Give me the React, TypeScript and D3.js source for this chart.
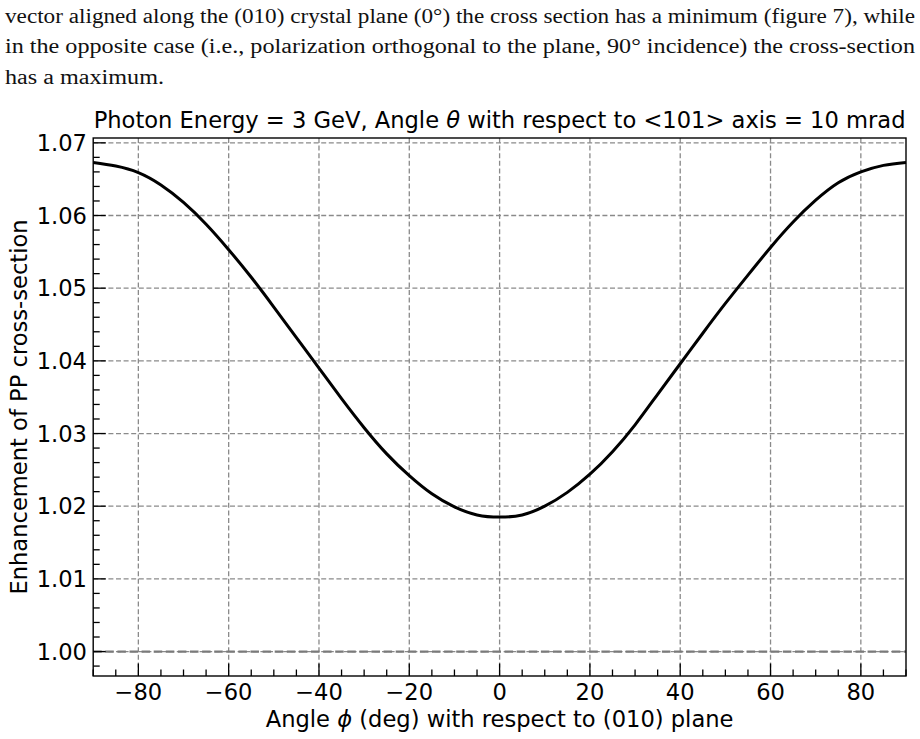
import React, { useEffect, useRef } from 'react';
import * as d3 from 'd3';

// Polarization angle phi (deg) and enhancement of the pair-production cross-section
const angles = [
  -90, -85, -80, -75, -70, -65, -60, -55, -50, -45, -40, -35, -30, -25, -20, -15, -10, -5, 0,
  5, 10, 15, 20, 25, 30, 35, 40, 45, 50, 55, 60, 65, 70, 75, 80, 85, 90,
];
const enhancement = [
  1.0673, 1.0668, 1.0659, 1.0642, 1.0618, 1.0588, 1.0553, 1.0515, 1.0474, 1.0432, 1.0390,
  1.0348, 1.0308, 1.0272, 1.0242, 1.0217, 1.0199, 1.0188, 1.0185,
  1.0188, 1.0200, 1.0219, 1.0244, 1.0275, 1.0312, 1.0354, 1.0396, 1.0438, 1.0479, 1.0518,
  1.0556, 1.0591, 1.0621, 1.0645, 1.0660, 1.0669, 1.0673,
];
const referenceLevel = 1.0;

const xMajorTicks = [-80, -60, -40, -20, 0, 20, 40, 60, 80];
const yMajorTicks = [1.0, 1.01, 1.02, 1.03, 1.04, 1.05, 1.06, 1.07];

const paragraph = [
  'vector aligned along the (010) crystal plane (0°) the cross section has a minimum (figure 7), while',
  'in the opposite case (i.e., polarization orthogonal to the plane, 90° incidence) the cross-section',
  'has a maximum.',
];
const paragraphWidths = [910, 910, 159];

const W = 920;
const H = 739;
const FONT = '"DejaVu Sans", sans-serif';
const FS = 22.6;

export default function App() {
  const svgRef = useRef<SVGSVGElement>(null);

  useEffect(() => {
    const svg = d3.select(svgRef.current);
    svg.selectAll('*').remove();

    // paragraph above the figure
    const para = svg.append('g').attr('font-family', '"Liberation Serif", serif').attr('font-size', 20.5).attr('fill', '#111');
    paragraph.forEach((line, i) => {
      para.append('text')
        .attr('x', 5).attr('y', 22.5 + i * 30.5)
        .attr('textLength', paragraphWidths[i])
        .attr('lengthAdjust', 'spacingAndGlyphs')
        .text(line);
    });

    const m = { left: 93.2, right: 906, top: 138, bottom: 676 };
    const x = d3.scaleLinear().domain([-90, 90]).range([m.left, m.right]);

    // autoscale like matplotlib: 5% margin around data incl. the reference line
    const lo = Math.min(referenceLevel, d3.min(enhancement)!);
    const hi = Math.max(referenceLevel, d3.max(enhancement)!);
    const pad = (hi - lo) * 0.05;
    const y = d3.scaleLinear().domain([lo - pad, hi + pad]).range([m.bottom, m.top]);

    const g = svg.append('g');

    // grid
    const grid = g.append('g').attr('stroke', '#8a8a8a').attr('stroke-width', 1.3).attr('stroke-dasharray', '5,2.6');
    xMajorTicks.forEach(t => {
      grid.append('line').attr('x1', x(t)).attr('x2', x(t)).attr('y1', m.top).attr('y2', m.bottom);
    });
    yMajorTicks.forEach(t => {
      grid.append('line').attr('x1', m.left).attr('x2', m.right).attr('y1', y(t)).attr('y2', y(t));
    });

    // reference line at 1.0
    g.append('line')
      .attr('x1', m.left).attr('x2', m.right)
      .attr('y1', y(referenceLevel)).attr('y2', y(referenceLevel))
      .attr('stroke', '#7a7a7a').attr('stroke-width', 2.2).attr('stroke-dasharray', '8.5,3.6');

    // curve
    const line = d3.line<number>()
      .x((_, i) => x(angles[i]))
      .y(d => y(d))
      .curve(d3.curveNatural);
    g.append('path')
      .datum(enhancement)
      .attr('d', line)
      .attr('fill', 'none')
      .attr('stroke', '#000')
      .attr('stroke-width', 3);

    // ticks (inward, left + bottom)
    const ticks = g.append('g').attr('stroke', '#000').attr('stroke-width', 1.3);
    d3.range(-90, 90.01, 5).forEach(t => {
      const major = xMajorTicks.includes(t);
      ticks.append('line').attr('x1', x(t)).attr('x2', x(t)).attr('y1', m.bottom).attr('y2', m.bottom - (major ? 12.5 : 6.5));
    });
    const [d0, d1] = y.domain();
    for (let v = Math.ceil(d0 / 0.002) * 0.002; v <= d1 + 1e-9; v += 0.002) {
      const major = yMajorTicks.some(t => Math.abs(t - v) < 1e-6);
      ticks.append('line').attr('x1', m.left).attr('x2', m.left + (major ? 12.5 : 6.5)).attr('y1', y(v)).attr('y2', y(v));
    }

    // frame
    g.append('rect')
      .attr('x', m.left).attr('y', m.top)
      .attr('width', m.right - m.left).attr('height', m.bottom - m.top)
      .attr('fill', 'none').attr('stroke', '#000').attr('stroke-width', 1.4);

    // tick labels
    const labels = g.append('g').attr('font-family', FONT).attr('font-size', FS).attr('fill', '#000');
    xMajorTicks.forEach(t => {
      labels.append('text')
        .attr('x', x(t)).attr('y', 699.5)
        .attr('text-anchor', 'middle')
        .text(t < 0 ? `\u2212${Math.abs(t)}` : `${t}`);
    });
    yMajorTicks.forEach(t => {
      labels.append('text')
        .attr('x', 87).attr('y', y(t) + 8.2)
        .attr('text-anchor', 'end')
        .text(t.toFixed(2));
    });

    // title
    const title = g.append('text')
      .attr('x', (m.left + m.right) / 2).attr('y', 128)
      .attr('text-anchor', 'middle')
      .attr('font-family', FONT).attr('font-size', FS);
    title.append('tspan').text('Photon Energy = 3 GeV, Angle ');
    title.append('tspan').attr('font-style', 'italic').text('θ');
    title.append('tspan').text(' with respect to <101> axis = 10 mrad');

    // axis labels
    const xl = g.append('text')
      .attr('x', (m.left + m.right) / 2).attr('y', 726.5)
      .attr('text-anchor', 'middle')
      .attr('font-family', FONT).attr('font-size', FS);
    xl.append('tspan').text('Angle ');
    xl.append('tspan').attr('font-style', 'italic').text('ϕ');
    xl.append('tspan').text(' (deg) with respect to (010) plane');

    g.append('text')
      .attr('transform', `translate(27, ${(m.top + m.bottom) / 2}) rotate(-90)`)
      .attr('text-anchor', 'middle')
      .attr('font-family', FONT).attr('font-size', FS)
      .text('Enhancement of PP cross-section');
  }, []);

  return (
    <svg
      ref={svgRef}
      width={W}
      height={H}
      style={{ position: 'absolute', left: 0, top: 0, background: '#fff', display: 'block' }}
    />
  );
}
